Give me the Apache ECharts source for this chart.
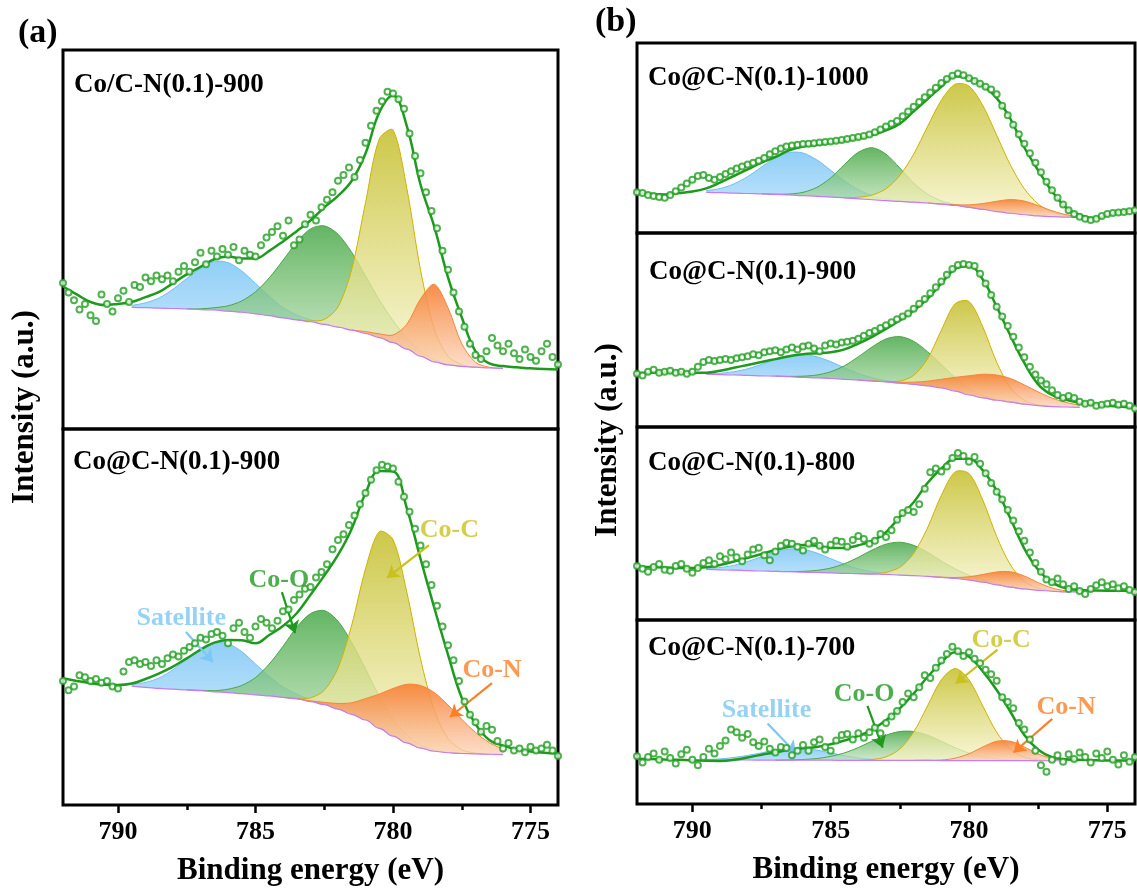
<!DOCTYPE html>
<html><head><meta charset="utf-8">
<script src="https://cdn.jsdelivr.net/npm/echarts@6/dist/echarts.min.js"></script>
<style>html,body{margin:0;padding:0;background:#fff}#c{width:1137px;height:890px}</style>
</head><body><div id="c"></div>
<script>
// ---------- shared x values (binding energy, eV) ----------
const xComp = [789.5,789,788.5,788,787.5,787,786.5,786,785.5,785,784.5,784,783.5,783,782.5,782,781.5,781,780.5,780,779.5,779,778.5,778,777.5,777,776.5,776];
const xFit = [792,791.5,791,790.5,790,789.5,789,788.5,788,787.5,787,786.5,786,785.5,785,784.5,784,783.5,783,782.5,782,781.5,781,780.5,780,779.5,779,778.5,778,777.5,777,776.5,776,775.5,775,774.5,774];
const xPts = [792,791.8,791.6,791.4,791.2,791,790.8,790.6,790.4,790.2,790,789.8,789.6,789.4,789.2,789,788.8,788.6,788.4,788.2,788,787.8,787.6,787.4,787.2,787,786.8,786.6,786.4,786.2,786,785.8,785.6,785.4,785.2,785,784.8,784.6,784.4,784.2,784,783.8,783.6,783.4,783.2,783,782.8,782.6,782.4,782.2,782,781.8,781.6,781.4,781.2,781,780.8,780.6,780.4,780.2,780,779.8,779.6,779.4,779.2,779,778.8,778.6,778.4,778.2,778,777.8,777.6,777.4,777.2,777,776.8,776.6,776.4,776.2,776,775.8,775.6,775.4,775.2,775,774.8,774.6,774.4,774.2,774];
const xTicks = [790,785,780,775];
const xMinorTicks = [787.5,782.5,777.5];

// ---------- (a) top: Co/C-N(0.1)-900 ----------
const a1_bg  = [32.1,32.0,31.9,31.8,31.7,31.5,31.4,31.1,30.8,30.4,29.9,29.3,28.8,28.3,27.6,26.9,26.1,25.2,24.1,22.8,21.1,19.2,17.7,16.9,16.5,16.3,16.1,16.0];
const a1_sat = [0.5,1.3,2.7,5.1,8.0,10.9,12.8,12.8,10.9,8.0,5.1,2.7,1.3,0.5,0.2,0,0,0,0,0,0,0,0,0,0,0,0,0];
const a1_coo = [0,0,0,0,0,0.2,0.6,1.4,3.0,5.8,10.0,15.2,20.5,24.5,26,24.5,20.5,15.2,10.0,5.8,3.0,1.4,0.6,0.2,0,0,0,0];
const a1_coc = [0,0,0,0,0,0,0,0,0,0,0,0,0,0.2,1.3,5.3,16.1,34.5,52.4,56.1,42.5,22.8,8.7,2.3,0.5,0,0,0];
const a1_con = [0,0,0,0,0,0,0,0,0,0,0,0,0,0,0,0,0,0.5,1.0,2.0,6.5,15.1,20.5,15.1,6.0,1.3,0.2,0];
const a1_fit = [37.6,35.5,33.5,32.7,33.0,33.5,34.8,36.2,38.5,40.8,42.8,44.8,45.5,45.0,45.0,47.0,49.5,52.2,55.0,58.5,61.5,65.5,72.7,83.5,88.0,80.0,64.5,53.4,40.0,29.5,20.5,17.3,16.6,16.3,16.0,15.8,15.7];
const a1_pts = [38.5,36.0,34.0,31.5,33.0,30.0,28.5,35.5,33.0,31.0,
 34.5,36.5,33.5,38.0,37.5,40.0,39.0,40.5,39.5,40.5,
 39.0,41.5,43.0,41.5,44.0,46.5,43.5,47.0,45.5,47.5,
 46.0,48.0,44.5,47.0,46.0,45.5,48.5,50.5,52.0,53.5,
 51.0,55.0,48.5,50.0,54.0,56.5,55.0,58.5,60.5,62.5,
 65.5,67.0,69.0,66.5,71.0,75.5,80.0,84.0,86.5,89.0,
 88.5,87.0,84.5,78.0,72.0,67.5,62.5,57.5,53.0,47.0,
 42.0,36.0,31.0,27.0,22.5,19.5,18.5,20.5,24.0,22.0,
 20.5,22.5,20.0,18.5,21.0,19.0,18.0,20.5,22.5,19.0,
 17.0];

// ---------- (a) bottom: Co@C-N(0.1)-900 ----------
const a2_bg  = [31.6,31.3,31.0,30.8,30.6,30.4,30.1,29.9,29.6,29.3,29.0,28.6,28.2,27.5,26.7,25.5,24.1,22.6,20.4,18.3,16.5,15.1,14.3,13.9,13.7,13.6,13.5,13.4];
const a2_sat = [0.5,1.3,2.8,5.2,8.2,11.2,13.0,13.0,11.2,8.2,5.2,2.8,1.3,0.5,0.2,0,0,0,0,0,0,0,0,0,0,0,0,0];
const a2_coo = [0,0,0,0,0,0.1,0.3,0.9,2.2,4.6,8.5,13.6,19.1,23.4,25,23.4,19.1,13.6,8.5,4.6,2.2,0.9,0.3,0.1,0,0,0,0];
const a2_coc = [0,0,0,0,0,0,0,0,0,0,0,0,0.2,1.0,3.8,10.9,23.8,40.2,52.3,52.3,40.2,23.8,10.9,3.8,1.0,0.2,0,0];
const a2_con = [0,0,0,0,0,0,0,0,0,0,0,0,0.1,0.2,0.6,1.5,3.1,5.7,9.1,12.7,15.6,16.7,15.6,12.7,9.1,5.7,3.1,1.5];
const a2_fit = [33.7,33.0,32.4,32.0,31.9,32.3,33.5,35.0,36.8,39.0,41.3,43.2,43.9,43.8,43.0,45.2,47.6,51.0,55.9,61.0,66.5,73.5,82.9,88.8,88.7,79.0,65.5,52.5,40.0,28.5,21.5,17.3,15.8,14.8,14.2,13.9,13.7];
const a2_pts = [33.0,30.5,31.5,34.5,34.0,33.0,33.5,32.5,33.0,31.5,
 31.0,35.5,38.0,38.5,37.5,38.0,37.0,38.5,37.5,39.0,
 40.0,39.5,41.0,42.0,43.0,44.5,44.0,45.5,46.0,45.0,
 43.0,47.0,48.5,46.0,44.5,47.5,49.5,48.5,47.0,49.0,
 51.5,52.0,54.5,56.0,57.5,58.0,60.5,62.0,64.0,68.0,
 70.5,72.0,74.5,77.0,80.0,83.0,86.5,89.0,90.5,90.0,
 89.5,86.0,82.0,78.0,73.5,69.0,64.0,58.5,53.0,47.5,
 42.5,38.5,33.0,27.5,24.0,22.0,19.5,21.0,20.0,17.0,
 15.0,16.5,14.5,15.0,14.0,15.5,14.5,15.0,16.0,14.5,
 13.0];

// ---------- (b) 1: Co@C-N(0.1)-1000 ----------
const b1_bg  = [21.4,21.2,21.0,20.8,20.6,20.3,20.0,19.7,19.3,18.9,18.5,18.0,17.5,17.0,16.6,16.2,15.8,15.2,14.5,13.5,12.4,11.3,10.4,9.6,9.0,8.6,8.4,8.2];
const b1_sat = [0.9,2.2,4.8,8.9,14.1,19.2,22.4,22.4,19.2,14.1,8.9,4.8,2.2,0.9,0.3,0,0,0,0,0,0,0,0,0,0,0,0,0];
const b1_coo = [0,0,0,0,0,0.1,0.5,1.7,4.7,10.1,17.6,24.5,27.4,24.5,17.6,10.1,4.7,1.7,0.5,0.1,0,0,0,0,0,0,0,0];
const b1_coc = [0,0,0,0,0,0,0,0,0,0,0,0.8,2.5,6.3,13.7,25.3,40.2,54.7,63.8,63.8,54.7,40.2,25.3,13.7,6.3,2.5,0.8,0.2];
const b1_con = [0,0,0,0,0,0,0,0,0,0,0,0,0,0,0,0,0,0.1,0.4,1.3,3.1,5.4,7.2,7.2,5.4,3.1,1.3,0.4];
const b1_fit = [21.2,20.5,20.3,21.0,21.8,23.5,26.5,30.0,33.5,37.0,40.0,43.5,45.5,46.5,47.5,48.5,50.0,51.5,54.0,57.5,64.0,70.5,77.0,82.5,81.5,77.5,71.0,60.0,45.0,33.0,22.0,13.5,9.5,7.7,9.5,11.0,12.0];
const b1_pts = [21.5,21.0,20.0,19.5,19.0,18.5,20.0,22.0,24.0,26.0,
 28.0,30.0,30.5,29.0,28.0,29.5,31.0,32.5,34.0,35.0,
 36.0,37.0,38.0,39.5,41.5,43.0,44.5,45.5,46.0,46.5,
 46.8,47.0,47.3,47.6,47.9,48.2,48.6,49.0,49.5,50.0,
 50.5,51.0,51.8,53.0,54.5,56.0,57.5,59.0,61.5,64.0,
 66.5,69.0,71.5,74.0,76.5,79.0,81.0,82.8,84.0,83.0,
 81.5,80.0,78.5,77.0,75.5,73.0,67.0,62.0,57.0,52.0,
 47.0,42.0,37.0,32.0,27.0,22.5,18.5,15.0,12.0,10.0,
 8.5,7.5,6.8,7.5,9.0,10.0,10.5,10.8,11.0,11.5,
 12.0];

// ---------- (b) 2: Co@C-N(0.1)-900 ----------
const b2_bg  = [27.2,27.0,26.8,26.6,26.4,26.2,25.9,25.6,25.3,25.0,24.6,24.2,23.7,23.2,22.6,22.0,21.2,20.2,18.5,16.5,15.0,13.8,12.8,11.8,11.0,10.5,10.3,10.1];
const b2_sat = [0.3,0.7,1.7,3.4,5.9,8.7,10.9,11.8,10.9,8.7,5.9,3.4,1.7,0.7,0.3,0.1,0,0,0,0,0,0,0,0,0,0,0,0];
const b2_coo = [0,0,0,0,0,0,0.2,0.6,1.5,3.5,7.0,12.0,17.6,22.2,24,22.2,17.6,12.0,7.0,3.5,1.5,0.6,0.2,0,0,0,0,0];
const b2_coc = [0,0,0,0,0,0,0,0,0,0,0,0,0,0.2,1.1,4.6,13.9,29.7,45.0,48.2,36.6,19.6,7.4,2.0,0.4,0,0,0];
const b2_con = [0,0,0,0,0,0,0,0,0,0,0,0,0.1,0.2,0.5,1.1,2.4,4.4,7.1,9.9,12.2,13,12.2,9.9,7.1,4.4,2.4,1.1];
const b2_fit = [27.7,28.0,28.2,28.3,28.0,28.0,29.0,30.5,32.0,33.5,35.0,36.5,37.5,38.0,38.5,40.0,43.0,46.5,50.5,55.0,60.0,66.0,74.0,81.5,83.0,76.0,62.0,47.0,33.0,22.0,16.5,14.0,12.5,11.5,11.0,10.5,10.0];
const b2_pts = [27.5,26.5,28.5,29.5,28.0,28.5,29.0,28.0,28.5,27.5,
 28.5,31.0,33.5,34.5,34.0,34.5,35.0,34.5,35.5,36.0,
 36.5,37.5,37.0,38.5,39.0,39.5,38.5,40.0,41.0,40.0,
 41.5,42.0,40.5,39.0,42.0,43.0,42.5,43.5,44.0,44.5,
 45.5,47.0,48.5,49.5,51.0,52.5,54.0,55.5,57.0,58.5,
 61.0,63.5,66.0,69.0,72.0,75.0,78.5,81.5,83.5,84.0,
 83.5,83.0,79.0,74.0,68.0,62.0,57.0,52.0,46.5,41.0,
 36.0,31.0,27.0,24.0,22.0,19.0,16.5,15.0,16.0,15.0,
 13.0,12.0,12.5,11.0,11.5,12.0,12.5,11.5,12.0,11.0,
 9.5];

// ---------- (b) 3: Co@C-N(0.1)-800 ----------
const b3_bg  = [26.2,26.0,25.8,25.6,25.4,25.2,25.0,24.8,24.6,24.4,24.2,24.0,23.8,23.6,23.3,23.0,22.6,22.1,21.5,20.7,19.6,18.2,17.0,16.1,15.4,14.9,14.6,14.5];
const b3_sat = [0.5,1.2,2.5,4.7,7.4,10.1,11.8,11.8,10.1,7.4,4.7,2.5,1.2,0.5,0.2,0,0,0,0,0,0,0,0,0,0,0,0,0];
const b3_coo = [0,0,0,0,0,0,0.1,0.4,1.1,2.5,5.0,8.5,12.5,15.7,17,15.7,12.5,8.5,5.0,2.5,1.1,0.4,0.1,0,0,0,0,0];
const b3_coc = [0,0,0,0,0,0,0,0,0,0,0,0,0.2,1.1,4.0,11.5,25.1,42.5,55.2,55.2,42.5,25.1,11.5,4.0,1.1,0.2,0,0];
const b3_con = [0,0,0,0,0,0,0,0,0,0,0,0,0,0,0,0,0,0.1,0.5,1.7,4.0,6.7,8,6.7,4.0,1.7,0.5,0.1];
const b3_fit = [27.6,27.4,27.2,27.0,26.9,27.3,28.5,30.3,32.2,34.2,36.3,38.0,38.9,38.5,37.3,37.3,38.7,41.0,45.5,53.5,61.0,71.0,78.5,83.5,83.5,77.5,67.0,52.5,37.0,26.0,19.5,16.5,15.5,15.3,15.2,15.2,15.2];
const b3_pts = [28.0,26.5,25.0,27.5,29.0,26.0,25.5,28.0,29.0,26.5,
 24.5,27.0,29.5,31.0,29.0,33.0,31.5,35.0,32.5,30.5,
 34.0,36.5,37.5,33.5,31.0,35.5,38.5,40.0,39.5,38.0,
 36.0,39.5,41.0,38.5,36.5,39.0,41.0,40.5,38.0,41.5,
 43.5,42.0,39.5,41.0,44.5,43.0,46.5,52.0,55.5,57.0,
 56.0,60.0,68.0,76.5,78.5,77.0,79.5,84.0,86.5,85.0,
 82.0,84.5,81.0,76.0,71.0,66.5,62.5,57.0,51.5,46.0,
 41.0,35.0,29.5,25.0,21.0,19.5,21.5,18.5,16.0,17.5,
 15.0,13.5,16.0,18.0,19.5,17.5,18.5,16.5,17.5,15.5,
 14.5];

// ---------- (b) 4: Co@C-N(0.1)-700 ----------
const b4_bg  = [23.9,23.9,23.9,23.9,23.8,23.8,23.8,23.8,23.8,23.8,23.7,23.7,23.7,23.7,23.7,23.7,23.7,23.6,23.6,23.6,23.6,23.6,23.6,23.6,23.5,23.5,23.5,23.5];
const b4_sat = [0.3,0.6,1.4,2.5,4.0,5.5,6.4,6.4,5.5,4.0,2.5,1.4,0.6,0.3,0.1,0,0,0,0,0,0,0,0,0,0,0,0,0];
const b4_coo = [0,0,0,0,0,0,0.1,0.4,0.9,2.1,4.1,7.0,10.5,13.7,15.7,15.7,13.7,10.5,7.0,4.1,2.1,0.9,0.4,0.1,0,0,0,0];
const b4_coc = [0,0,0,0,0,0,0,0,0,0,0,0,0.5,1.9,6.2,15.4,29.6,43.9,50,43.9,29.6,15.4,6.2,1.9,0.5,0,0,0];
const b4_con = [0,0,0,0,0,0,0,0,0,0,0,0,0,0,0,0,0.1,0.3,1.3,3.7,7.4,10.5,10.5,7.4,3.7,1.3,0.3,0.1];
const b4_fit = [24.6,24.4,24.2,24.0,23.7,23.5,23.4,24.0,25.3,26.8,28.0,29.5,30.3,31.0,32.5,34.5,37.0,40.5,45.5,52.0,60.0,69.0,77.0,82.5,80.0,72.0,62.0,50.0,37.5,29.5,25.5,24.3,24.0,23.8,23.7,23.7,23.7];
const b4_pts = [26.0,22.5,25.5,27.5,24.0,28.5,25.0,22.0,27.0,29.5,
 24.0,21.0,25.5,30.0,27.5,31.5,34.5,40.5,39.0,36.0,
 38.0,33.5,31.5,34.0,30.0,28.0,31.0,30.5,26.5,29.0,
 32.0,29.0,33.5,35.0,31.0,29.0,34.5,37.5,38.0,35.0,
 38.5,36.0,39.0,41.5,38.5,44.0,47.5,50.5,55.5,60.0,
 58.0,63.5,70.0,68.5,74.0,78.0,81.5,85.5,83.0,80.5,
 82.5,79.0,76.5,73.0,70.5,67.0,58.0,55.5,52.0,44.0,
 40.5,35.0,29.0,21.0,17.5,24.0,26.5,23.0,27.0,24.5,
 28.0,25.5,22.5,27.5,25.0,28.5,24.0,21.5,26.5,23.0,
 25.5];

// ---------- annotations (label text, x in eV, y intensity) ----------
const a2_labels = [['Satellite',787.7,49.7,'sat'],['Co-O',784.15,59.8,'coo'],['Co-C',777.95,73.1,'coc'],['Co-N',776.4,35.9,'con']];
const a2_arrows = [[787.53,46.0,786.55,38.0,'sat'],[784.04,56.6,783.56,45.7,'coo'],[778.69,69.1,780.22,60.4,'coc'],[776.4,32.4,777.93,23.4,'con']];
const b4_labels = [['Satellite',787.32,50.7,'sat'],['Co-O',783.79,59.5,'coo'],['Co-C',778.84,89.1,'coc'],['Co-N',776.49,52.4,'con']];
const b4_arrows = [[787.28,43.7,786.25,27.6,'sat'],[783.67,53.3,783.12,30.6,'coo'],[778.97,83.9,780.48,65.5,'coc'],[776.99,46.3,778.39,28.0,'con']];

// ---------- styling / layout ----------
const FONT = '"Liberation Serif","Times New Roman",serif';
const COL = {
  sat:{line:'#6fc0f2', top:'rgba(125,198,245,0.85)', bot:'rgba(170,218,250,0.8)', text:'#7cc7f4'},
  coo:{line:'#4aa64a', top:'rgba(72,168,72,0.85)', bot:'rgba(190,226,182,0.7)', text:'#1f9a1f'},
  coc:{line:'#cfb300', top:'rgba(198,192,48,0.88)', bot:'rgba(246,244,200,0.75)', text:'#c9c21e'},
  con:{line:'#f5863a', top:'rgba(247,128,52,0.9)', bot:'rgba(252,210,182,0.75)', text:'#ff7f27'}
};
const GREEN = '#1f9a1f';
const panels = [
  {id:'a1', g:{left:63, top:50, width:495, height:379}, bottom:false, name:'Co/C-N(0.1)-900', lx:74, ly:85,
   bg:a1_bg, pk:{sat:a1_sat,coo:a1_coo,coc:a1_coc,con:a1_con}, fit:a1_fit, pts:a1_pts},
  {id:'a2', g:{left:63, top:429, width:495, height:376}, bottom:true, name:'Co@C-N(0.1)-900', lx:73, ly:462,
   bg:a2_bg, pk:{sat:a2_sat,coo:a2_coo,coc:a2_coc,con:a2_con}, fit:a2_fit, pts:a2_pts, labels:a2_labels, arrows:a2_arrows},
  {id:'b1', g:{left:637, top:43, width:498, height:190}, bottom:false, name:'Co@C-N(0.1)-1000', lx:648, ly:78,
   bg:b1_bg, pk:{sat:b1_sat,coo:b1_coo,coc:b1_coc,con:b1_con}, fit:b1_fit, pts:b1_pts},
  {id:'b2', g:{left:637, top:233, width:498, height:194}, bottom:false, name:'Co@C-N(0.1)-900', lx:649, ly:272,
   bg:b2_bg, pk:{sat:b2_sat,coo:b2_coo,coc:b2_coc,con:b2_con}, fit:b2_fit, pts:b2_pts},
  {id:'b3', g:{left:637, top:427, width:498, height:193}, bottom:false, name:'Co@C-N(0.1)-800', lx:648, ly:463,
   bg:b3_bg, pk:{sat:b3_sat,coo:b3_coo,coc:b3_coc,con:b3_con}, fit:b3_fit, pts:b3_pts},
  {id:'b4', g:{left:637, top:620, width:498, height:184}, bottom:true, name:'Co@C-N(0.1)-700', lx:648, ly:648,
   bg:b4_bg, pk:{sat:b4_sat,coo:b4_coo,coc:b4_coc,con:b4_con}, fit:b4_fit, pts:b4_pts, labels:b4_labels, arrows:b4_arrows}
];

const zip = (xs, ys) => xs.map((x, i) => [x, ys[i]]);
const grids = [], xAxes = [], yAxes = [], series = [], graphics = [];

// filled component peak: region between background and background + peak
function peakSeries(i, p, k) {
  const c = COL[k], pk = p.pk[k];
  let s = pk.findIndex(v => v > 0), e = pk.length - 1;
  while (e > 0 && !(pk[e] > 0)) e--;
  s = Math.max(0, s - 1); e = Math.min(pk.length - 1, e + 1);
  const rows = [];
  for (let j = s; j <= e; j++) rows.push([xComp[j], p.bg[j], p.bg[j] + pk[j]]);
  return {
    type:'custom', xAxisIndex:i, yAxisIndex:i, silent:true, z:2, clip:true,
    data:[0],
    renderItem:(params, api) => {
      const top = rows.map(r => api.coord([r[0], r[2]]));
      const bot = rows.map(r => api.coord([r[0], r[1]])).reverse();
      return {type:'group', children:[
        {type:'polygon', shape:{points:top.concat(bot), smooth:0.3},
          style:{fill:new echarts.graphic.LinearGradient(0,0,0,1,[{offset:0,color:c.top},{offset:1,color:c.bot}])}},
        {type:'polyline', shape:{points:top, smooth:0.3}, style:{stroke:c.line, lineWidth:1, fill:null}}
      ]};
    }
  };
}

panels.forEach((p, i) => {
  grids.push(Object.assign({show:true, borderColor:'#000', borderWidth:3, backgroundColor:'transparent', containLabel:false}, p.g));
  xAxes.push({
    type:'value', gridIndex:i, min:774, max:792, inverse:true, position:'bottom',
    axisLine:{show:false}, splitLine:{show:false},
    axisTick:{show:p.bottom, customValues:xTicks, length:8, lineStyle:{color:'#000', width:2.5}},
    axisLabel:{show:p.bottom, customValues:xTicks, margin:14, fontSize:26, fontWeight:'bold', fontFamily:FONT, color:'#000'},
    name:p.bottom ? 'Binding energy (eV)' : '', nameLocation:'middle', nameGap:50,
    nameTextStyle:{fontSize:31, fontWeight:'bold', fontFamily:FONT, color:'#000'}
  });
  yAxes.push({type:'value', gridIndex:i, min:0, max:100, show:false});

  ['sat','coo','coc','con'].forEach(k => series.push(peakSeries(i, p, k)));
  series.push({type:'line', xAxisIndex:i, yAxisIndex:i, data:zip(xComp, p.bg), symbol:'none', smooth:0.4, smoothMonotone:'x',
    lineStyle:{color:'#c27cf5', width:1.2}, silent:true, z:3});
  series.push({type:'line', xAxisIndex:i, yAxisIndex:i, data:zip(xFit, p.fit), symbol:'none', smooth:0.4,
    lineStyle:{color:GREEN, width:2.5}, silent:true, z:4});
  series.push({type:'scatter', xAxisIndex:i, yAxisIndex:i, data:zip(xPts, p.pts), symbol:'emptyCircle', symbolSize:6,
    itemStyle:{color:'#22a022', borderColor:'#1c9a1c', borderWidth:1.8}, silent:true, z:5});

  if (p.labels) {
    series.push({
      type:'scatter', xAxisIndex:i, yAxisIndex:i, symbolSize:1, silent:true, z:6,
      itemStyle:{color:'transparent'},
      data:p.labels.map(l => ({name:l[0], value:[l[1], l[2]],
        label:{show:true, position:'inside', formatter:'{b}', color:COL[l[3]].text, fontSize:26, fontWeight:'bold', fontFamily:FONT}})),
      markLine:{silent:true, animation:false, symbol:['none','arrow'], symbolSize:12, label:{show:false},
        data:p.arrows.map(a => [{coord:[a[0], a[1]], lineStyle:{color:COL[a[4]].text, width:2.2, type:'solid'}}, {coord:[a[2], a[3]]}])}
    });
  }

  graphics.push({type:'text', x:p.lx, y:p.ly, z:10,
    style:{text:p.name, font:'bold 27px ' + FONT, fill:'#000', textAlign:'left', textVerticalAlign:'middle'}});
});

// minor ticks on the bottom axes
panels.forEach((p, i) => {
  if (!p.bottom) return;
  xAxes.push({type:'value', gridIndex:i, min:774, max:792, inverse:true, position:'bottom', offset:0,
    axisLine:{show:false}, splitLine:{show:false}, axisLabel:{show:false},
    axisTick:{show:true, customValues:xMinorTicks, length:5, lineStyle:{color:'#000', width:2.5}}});
});

graphics.push(
  {type:'text', x:18, y:33, style:{text:'(a)', font:'bold 34px ' + FONT, fill:'#000', textAlign:'left', textVerticalAlign:'middle'}},
  {type:'text', x:595, y:22, style:{text:'(b)', font:'bold 34px ' + FONT, fill:'#000', textAlign:'left', textVerticalAlign:'middle'}},
  {type:'text', x:25, y:407, rotation:Math.PI/2, style:{text:'Intensity (a.u.)', font:'bold 31px ' + FONT, fill:'#000', textAlign:'center', textVerticalAlign:'middle'}},
  {type:'text', x:608, y:440, rotation:Math.PI/2, style:{text:'Intensity (a.u.)', font:'bold 31px ' + FONT, fill:'#000', textAlign:'center', textVerticalAlign:'middle'}}
);

const chart = echarts.init(document.getElementById('c'));
chart.setOption({
  animation:false, backgroundColor:'#fff',
  grid:grids, xAxis:xAxes, yAxis:yAxes, series:series, graphic:graphics
});
</script></body></html>
